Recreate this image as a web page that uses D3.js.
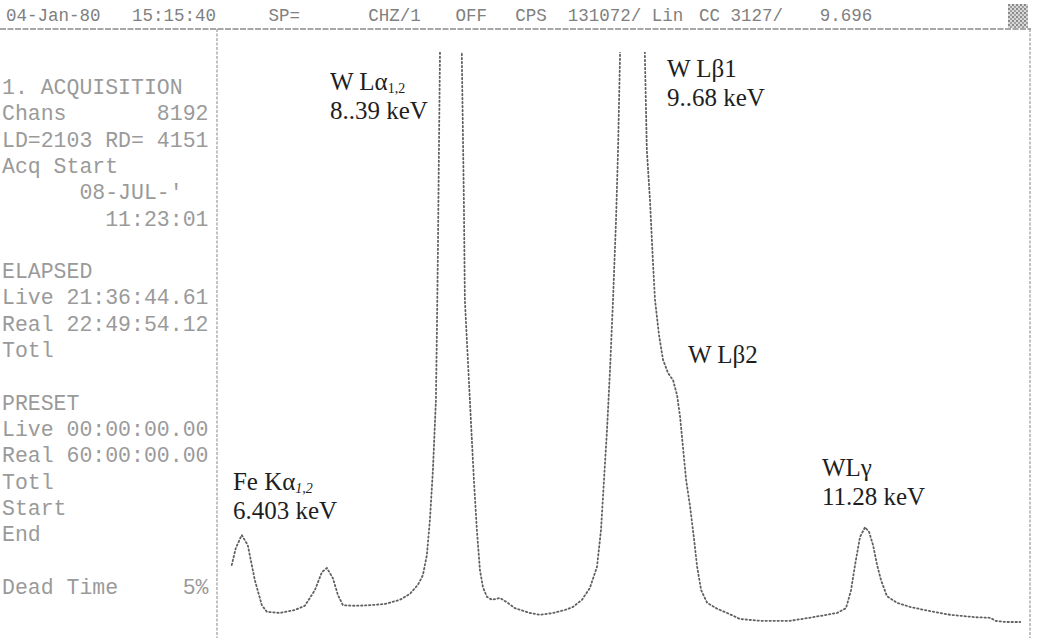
<!DOCTYPE html>
<html>
<head>
<meta charset="utf-8">
<script src="https://cdn.jsdelivr.net/npm/d3@7"></script>
<style>
  body { margin: 0; background: #fff; }
  svg { display: block; }
</style>
</head>
<body>
<div id="chart"></div>
<script>
// Old MCA printout: W L-line spectrum (with Fe K).

const W = 1039, H = 638

// spectrum, energy in keV and counts in arbitrary units (100 = top of the printout)
const energy = [6.861, 6.889, 6.931, 6.973, 7.022, 7.071, 7.106, 7.197, 7.301, 7.371,
  7.441, 7.490, 7.525, 7.567, 7.602, 7.637, 7.721, 7.825, 7.930, 8.035,
  8.105, 8.160, 8.195, 8.223, 8.244, 8.265, 8.286, 8.293, 8.300, 8.307,
  8.314, 8.349, 8.390, 8.439, 8.467, 8.481, 8.488, 8.523, 8.551, 8.572,
  8.593, 8.614, 8.642, 8.677, 8.732, 8.781, 8.837, 8.942, 9.012, 9.102,
  9.186, 9.242, 9.305, 9.361, 9.410, 9.438, 9.459, 9.480, 9.501, 9.522,
  9.543, 9.557, 9.571, 9.661, 9.744, 9.758, 9.780, 9.800, 9.815, 9.843,
  9.871, 9.906, 9.941, 9.969, 9.990, 10.012, 10.032, 10.060, 10.088, 10.109,
  10.137, 10.179, 10.249, 10.319, 10.408, 10.547, 10.757, 10.918, 11.085, 11.148,
  11.183, 11.211, 11.246, 11.281, 11.309, 11.337, 11.365, 11.392, 11.434, 11.504,
  11.596, 11.736, 11.875, 12.048, 12.156, 12.190, 12.260, 12.364]
const counts = [12.5, 15.3, 17.5, 15.8, 10.0, 5.8, 4.7, 4.5, 5.0, 5.7,
  8.3, 11.3, 12.0, 10.3, 7.5, 5.8, 5.7, 5.8, 6.0, 6.7,
  7.7, 9.2, 10.8, 14.2, 20.0, 28.3, 40.0, 51.7, 65.0, 81.7,
  97.0, 200, 260, 200, 97.0, 73.3, 56.7, 40.0, 26.7, 18.3,
  11.7, 8.8, 7.2, 6.7, 7.0, 6.3, 5.3, 4.5, 4.2, 4.5,
  5.0, 5.5, 6.7, 8.7, 12.2, 18.3, 26.7, 35.0, 45.0, 56.7,
  70.0, 81.7, 97.5, 300, 97.8, 81.7, 73.3, 63.3, 56.7, 50.8,
  46.7, 44.5, 43.3, 40.8, 37.2, 31.7, 26.7, 22.2, 16.7, 12.2,
  8.3, 6.2, 5.2, 4.5, 3.5, 3.2, 3.2, 3.8, 4.5, 5.3,
  8.3, 12.5, 17.2, 18.8, 18.0, 15.8, 12.5, 10.0, 7.3, 6.2,
  5.5, 4.8, 4.2, 3.8, 3.7, 3.2, 3.0, 3.0]

// peak annotations: [main text, subscript, second line], anchored in data units
const peakNames = ['W Lα', 'W Lβ1', 'W Lβ2', 'Fe Kα', 'WLγ']
const peakSubs  = ['1,2', '', '', '1,2', '']
const peakKeV   = ['8..39 keV', '9..68 keV', '', '6.403 keV', '11.28 keV']
const peakAtE   = [7.546, 9.898, 10.045, 6.869, 10.980]
const peakAtC   = [91.7, 93.8, 46.2, 25.0, 27.3]

// header and side panel of the printout
const headTexts = ['04-Jan-80', '15:15:40', 'SP=', 'CHZ/1', 'OFF', 'CPS',
                   '131072/ Lin', 'CC 3127/', '9.696']
const headCols  = [0, 12, 25, 34.5, 42.8, 48.5, 53.5, 66, 77.5] // char columns
const panelLines = ['1. ACQUISITION', 'Chans       8192', 'LD=2103 RD= 4151',
  'Acq Start', '      08-JUL-\'', '        11:23:01', '', 'ELAPSED',
  'Live 21:36:44.61', 'Real 22:49:54.12', 'Totl', '', 'PRESET',
  'Live 00:00:00.00', 'Real 60:00:00.00', 'Totl', 'Start', 'End', '',
  'Dead Time     5%']

const DIV = 217   // x of the panel divider
const TOP = 29    // y of the header rule
const RGT = 1030  // x of the right frame

const xsc = d3.scaleLinear([6.8, 12.4], [223, 1025.4])
const ysc = d3.scaleLinear([0, 100], [640, 40])

const svg = d3.select('#chart').append('svg').attr('width', W).attr('height', H)

// header
svg.append('g').selectAll('text').data(headTexts).join('text')
  .attr('x', (d, i) => 6 + headCols[i] * 10.5).attr('y', 21)
  .attr('font-family', 'Liberation Mono').attr('font-size', 17.5)
  .attr('fill', '#808080').attr('xml:space', 'preserve').text(d => d)

// little dithered box in the corner
const pat = svg.append('defs').append('pattern').attr('id', 'dith')
  .attr('width', 4).attr('height', 4).attr('patternUnits', 'userSpaceOnUse')
pat.append('rect').attr('width', 4).attr('height', 4).attr('fill', '#d8d8d8')
pat.append('rect').attr('width', 2).attr('height', 2).attr('fill', '#8a8a8a')
pat.append('rect').attr('x', 2).attr('y', 2).attr('width', 2).attr('height', 2).attr('fill', '#a0a0a0')
svg.append('rect').attr('x', 1008).attr('y', 4).attr('width', 20).attr('height', 24)
  .attr('fill', 'url(#dith)')

// frame lines
svg.append('line').attr('x1', 0).attr('x2', RGT + 1).attr('y1', TOP).attr('y2', TOP)
  .attr('stroke', '#8a8a8a').attr('stroke-width', 1.6).attr('stroke-dasharray', '6,1.5')
svg.append('line').attr('x1', DIV).attr('x2', DIV).attr('y1', TOP).attr('y2', H)
  .attr('stroke', '#9a9a9a').attr('stroke-width', 1.2).attr('stroke-dasharray', '3,1.5')
svg.append('line').attr('x1', RGT).attr('x2', RGT).attr('y1', TOP).attr('y2', H)
  .attr('stroke', '#9a9a9a').attr('stroke-width', 1.2).attr('stroke-dasharray', '3,1.5')

// side panel
svg.append('g').selectAll('text').data(panelLines).join('text')
  .attr('x', 2).attr('y', (d, i) => 94 + i * 26.3)
  .attr('font-family', 'Liberation Mono').attr('font-size', 21.5)
  .attr('fill', '#9a9a9a').attr('xml:space', 'preserve').text(d => d)

// spectrum trace, clipped at the top of the printout like the original
svg.append('clipPath').attr('id', 'clip').append('rect')
  .attr('x', DIV + 2).attr('y', 52).attr('width', RGT - DIV - 4).attr('height', H - 52)

const pts = energy.map((e, i) => [e, counts[i]])
const line = d3.line().x(d => xsc(d[0])).y(d => ysc(d[1]))

svg.append('path').datum(pts).attr('d', line).attr('clip-path', 'url(#clip)')
  .attr('fill', 'none').attr('stroke', '#606060').attr('stroke-width', 1.8)
  .attr('stroke-dasharray', '1.4,2.6').attr('stroke-linecap', 'round')

// peak labels
const lab = svg.append('g').attr('font-family', 'Liberation Serif')
  .attr('font-size', 25).attr('fill', '#1e1e1e')
peakNames.forEach((n, i) => {
  const x = xsc(peakAtE[i]), y = ysc(peakAtC[i])
  const t = lab.append('text').attr('x', x).attr('y', y).text(n)
  if (peakSubs[i]) t.append('tspan').attr('font-size', 14).attr('dy', 3)
    .attr('font-style', i === 3 ? 'italic' : 'normal').text(peakSubs[i])
  if (peakKeV[i]) lab.append('text').attr('x', x).attr('y', y + 29).text(peakKeV[i])
})
</script>
</body>
</html>
